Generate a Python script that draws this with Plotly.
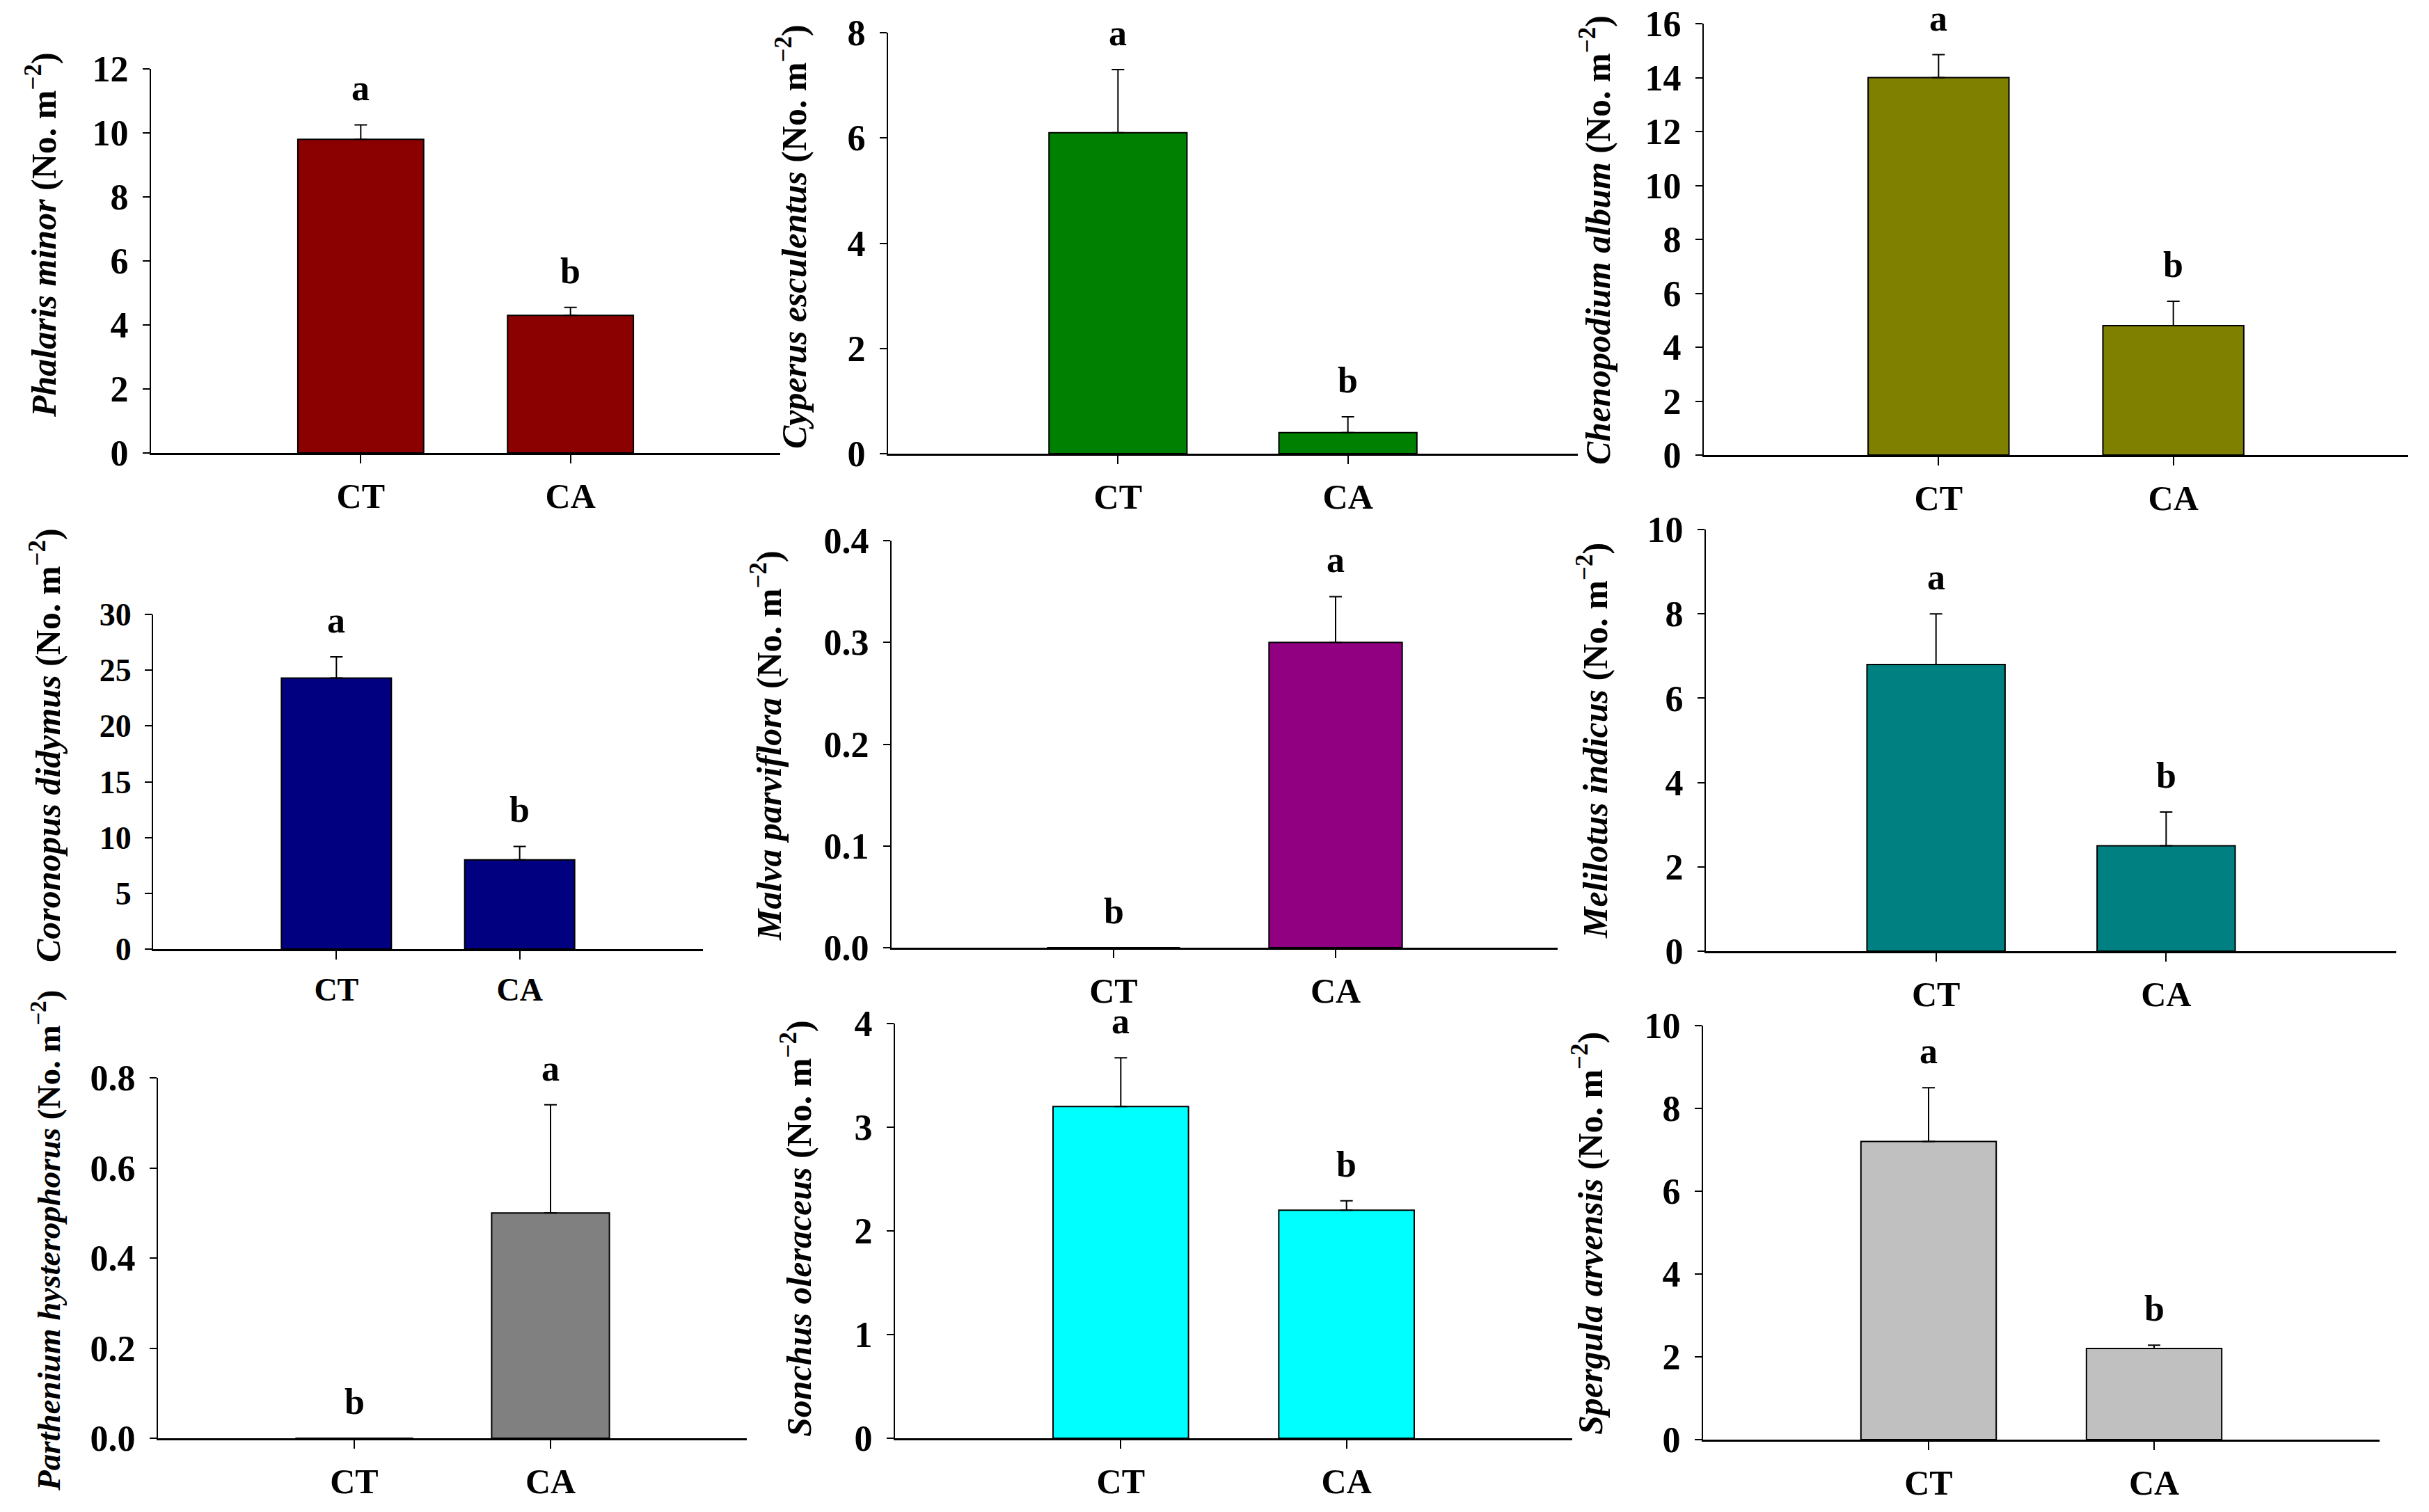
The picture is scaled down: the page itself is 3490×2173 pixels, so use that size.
import plotly.graph_objects as go
from plotly.subplots import make_subplots

# Weed density (No. m-2) under two tillage systems
species = ["Phalaris minor", "Cyperus esculentus", "Chenopodium album",
           "Coronopus didymus", "Malva parviflora", "Melilotus indicus",
           "Parthenium hysterophorus", "Sonchus oleraceus", "Spergula arvensis"]
treatments = ["CT", "CA"]
ct_mean = [9.8, 6.1, 14.0, 24.3, 0.0, 6.8, 0.0, 3.2, 7.2]
ca_mean = [4.3, 0.4, 4.8, 8.0, 0.3, 2.5, 0.5, 2.2, 2.2]
ct_se = [0.45, 1.2, 0.85, 1.9, 0.0, 1.2, 0.0, 0.47, 1.3]
ca_se = [0.25, 0.3, 0.9, 1.2, 0.045, 0.8, 0.24, 0.09, 0.08]
ct_letter = ["a", "a", "a", "a", "b", "a", "b", "a", "a"]
ca_letter = ["b", "b", "b", "b", "a", "b", "a", "b", "b"]
y_max = [12, 8, 16, 30, 0.4, 10, 0.8, 4, 10]
y_dtick = [2, 2, 2, 5, 0.1, 2, 0.2, 1, 2]

colors = ["#8B0000", "#008000", "#808000", "#000080", "#910080",
          "#008080", "#808080", "#00FFFF", "#C0C0C0"]

W, H = 3490, 2173
PAD = 8  # page body margin
FONT = "Liberation Serif"

# plot boxes in pixels: left, right, top (y max), bottom (y = 0)
boxes = [(217, 1121, 99, 651), (1276, 2267, 47, 652), (2448, 3460, 34, 654),
         (220, 1010, 883, 1364), (1281, 2238, 777, 1362), (2451, 3443, 761, 1367),
         (227, 1073, 1549, 2067), (1286, 2259, 1471, 2067), (2447, 3419, 1474, 2069)]
# y-axis title centres in pixels
title_pos = [(60, 338), (1137, 340), (2292, 345), (66, 1071), (1102, 1072),
             (2288, 1065), (66, 1783), (1144, 1766), (2281, 1773)]
title_size = [50, 50, 50, 50, 50, 50, 47, 50, 50]


def px(x):
    return (x - PAD) / W


def py(y):
    return 1 - (y - PAD) / H


fig = make_subplots(rows=3, cols=3)

for i in range(9):
    r, c = i // 3 + 1, i % 3 + 1
    fig.add_trace(go.Bar(
        x=treatments,
        y=[ct_mean[i], ca_mean[i]],
        width=0.6,
        marker=dict(color=colors[i], line=dict(color="black", width=2)),
        error_y=dict(type="data", symmetric=False,
                     array=[ct_se[i], ca_se[i]], arrayminus=[0, 0],
                     color="black", thickness=2, width=9),
        showlegend=False,
    ), row=r, col=c)

    # significance letters above the error bars
    for t, m, s, lab in [("CT", ct_mean[i], ct_se[i], ct_letter[i]),
                         ("CA", ca_mean[i], ca_se[i], ca_letter[i])]:
        fig.add_annotation(x=t, y=m + s, text="<b>" + lab + "</b>",
                           showarrow=False, yanchor="bottom", yshift=22,
                           font=dict(family=FONT, size=52, color="black"),
                           row=r, col=c)

    xl, xr, yt, yb = boxes[i]
    yfs = 46 if i == 3 else 52
    xfs = 46 if i == 3 else 50
    sfx = "" if i == 0 else str(i + 1)
    fig.update_layout({
        "xaxis" + sfx: dict(
            domain=[px(xl), px(xr)], range=[-1, 2], automargin=False,
            showline=True, linecolor="black", linewidth=3,
            ticks="outside", ticklen=12, tickwidth=2, tickcolor="black",
            tickfont=dict(family=FONT, size=xfs, color="black", weight="bold"),
            ticklabelstandoff=4, ticklabeloverflow="allow",
            showgrid=False, zeroline=False,
        ),
        "yaxis" + sfx: dict(
            domain=[py(yb), py(yt)], range=[0, y_max[i]],
            dtick=y_dtick[i], tick0=0, automargin=False,
            tickformat=".1f" if y_max[i] < 1 else "d",
            showline=True, linecolor="black", linewidth=2,
            ticks="outside", ticklen=10, tickwidth=2, tickcolor="black",
            tickfont=dict(family=FONT, size=yfs, color="black", weight="bold"),
            ticklabelstandoff=10, ticklabeloverflow="allow",
            showgrid=False, zeroline=False,
        ),
    })

    tx, ty = title_pos[i]
    fig.add_annotation(
        xref="paper", yref="paper", x=px(tx), y=py(ty),
        text="<b><i>" + species[i] + "</i> (No. m<sup>\u22122</sup>)</b>",
        textangle=-90, showarrow=False, xanchor="center", yanchor="middle",
        font=dict(family=FONT, size=title_size[i], color="black"),
    )

fig.update_layout(
    width=W, height=H,
    margin=dict(l=0, r=0, t=0, b=0, autoexpand=False),
    paper_bgcolor="white", plot_bgcolor="white",
    bargap=0.4,
)

fig.write_html("out.html")
